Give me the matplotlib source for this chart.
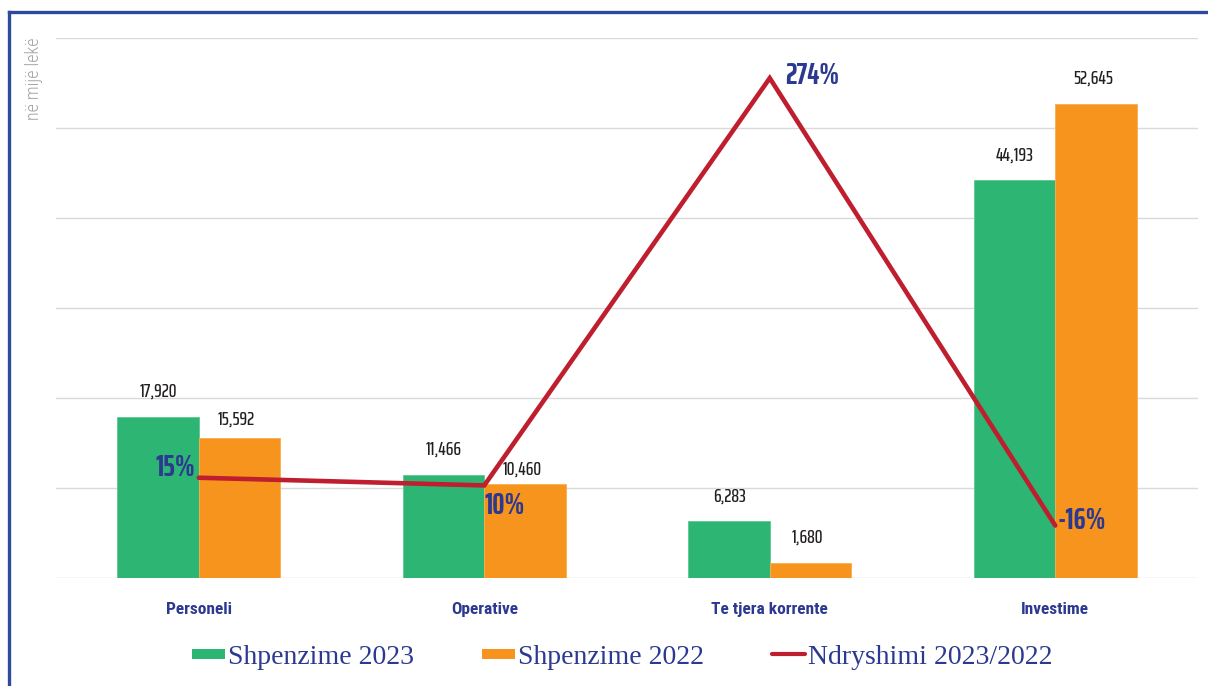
import matplotlib
matplotlib.use("Agg")
import matplotlib.pyplot as plt
from matplotlib.lines import Line2D

categories = ["Personeli", "Operative", "Te tjera korrente", "Investime"]
spend_2023 = [17920, 11466, 6283, 44193]
spend_2022 = [15592, 10460, 1680, 52645]
change_pct = [15, 10, 274, -16]
series_names = ["Shpenzime 2023", "Shpenzime 2022", "Ndryshimi 2023/2022"]
y_label = "në mijë lekë"

GREEN = "#2db673"
ORANGE = "#f7941d"
RED = "#be1e2d"
BLUE = "#2b3990"
TICKF = ["Roboto Condensed", "DejaVu Sans"]
VALF = ["Saira ExtraCondensed", "DejaVu Sans"]
SERIF = ["Liberation Serif", "DejaVu Serif"]

W, H = 1208, 686
fig = plt.figure(figsize=(W / 100, H / 100), dpi=100)
ax = fig.add_axes([56 / W, (H - 578) / H, (1198 - 56) / W, 540 / H])

x = list(range(len(categories)))
bw = 0.285
ax.bar([i - bw / 2 for i in x], spend_2023, width=bw, color=GREEN,
       edgecolor="#5cc790", linewidth=0.6, zorder=2)
ax.bar([i + bw / 2 for i in x], spend_2022, width=bw, color=ORANGE,
       edgecolor="#f9ad55", linewidth=0.6, zorder=2)

ax.set_xlim(-0.5, len(categories) - 0.5)
ax.set_ylim(0, 60000)
ax.set_yticks(range(0, 60001, 10000))
ax.yaxis.grid(True, color="#d9d9d9", linewidth=1.0)
ax.set_axisbelow(True)
ax.set_xticks(x)
ax.set_xticklabels(categories, family=TICKF, fontweight="bold",
                   fontsize=12.5, color=BLUE)
for s in ax.spines.values():
    s.set_visible(False)

# value labels
off23 = [25, 25, 25, 25]
off22 = [18, 14, 25, 25]
for i in x:
    ax.annotate(f"{spend_2023[i]:,}", (i - bw / 2, spend_2023[i]),
                xytext=(0, off23[i]), textcoords="offset pixels",
                ha="center", va="center", family=VALF, fontsize=14,
                fontweight="medium", color="#231f20")
    ax.annotate(f"{spend_2022[i]:,}", (i + bw / 2, spend_2022[i]),
                xytext=(-3, off22[i]), textcoords="offset pixels",
                ha="center", va="center", family=VALF, fontsize=14,
                fontweight="medium", color="#231f20")

# secondary axis for change line
ax2 = ax.twinx()
ax2.set_ylim(-50, 300)
ax2.set_axis_off()
ax2.plot(x, change_pct, color=RED, linewidth=3.3, solid_capstyle="round",
         solid_joinstyle="miter", zorder=3)
pct_off = [(-3, 10, "right"), (0, -20, "left"), (15, 3, "left"), (2, 5, "left")]
for i in x:
    dx, dy, ha = pct_off[i]
    ax2.annotate(f"{change_pct[i]}%", (i, change_pct[i]), xytext=(dx, dy),
                 textcoords="offset pixels", ha=ha, va="center",
                 family=VALF, fontweight="bold", fontsize=22, color=BLUE)

ax.tick_params(axis="y", left=False, right=False, labelleft=False)
ax.tick_params(axis="x", bottom=False, pad=14)

# y label
fig.text(34 / W, (H - 38) / H, y_label, rotation=90, ha="center", va="top",
         fontsize=13, color="#a3a3a3", family=["Roboto Condensed", "DejaVu Sans"],
         fontweight="light")

# legend
handles = [
    Line2D([], [], color=GREEN, linewidth=7.2, solid_capstyle="butt"),
    Line2D([], [], color=ORANGE, linewidth=7.2, solid_capstyle="butt"),
    Line2D([], [], color=RED, linewidth=3.0, solid_capstyle="round"),
]
leg = fig.legend(handles, series_names, loc="center",
                 bbox_to_anchor=(622 / W, 1 - 657 / H), ncol=3, frameon=False,
                 handlelength=1.2, handletextpad=0.1, columnspacing=2.45,
                 prop={"family": SERIF, "size": 20})
for t in leg.get_texts():
    t.set_color(BLUE)

# frame border (top and left)
fig.add_artist(Line2D([9 / W, 1.0], [1 - 12 / H, 1 - 12 / H],
                      transform=fig.transFigure, color="#2e4b9b", linewidth=2.4))
fig.add_artist(Line2D([9 / W, 9 / W], [0, 1 - 12 / H],
                      transform=fig.transFigure, color="#2e4b9b", linewidth=2.4,
                      solid_capstyle="projecting"))

fig.savefig("out.png", dpi=100)
